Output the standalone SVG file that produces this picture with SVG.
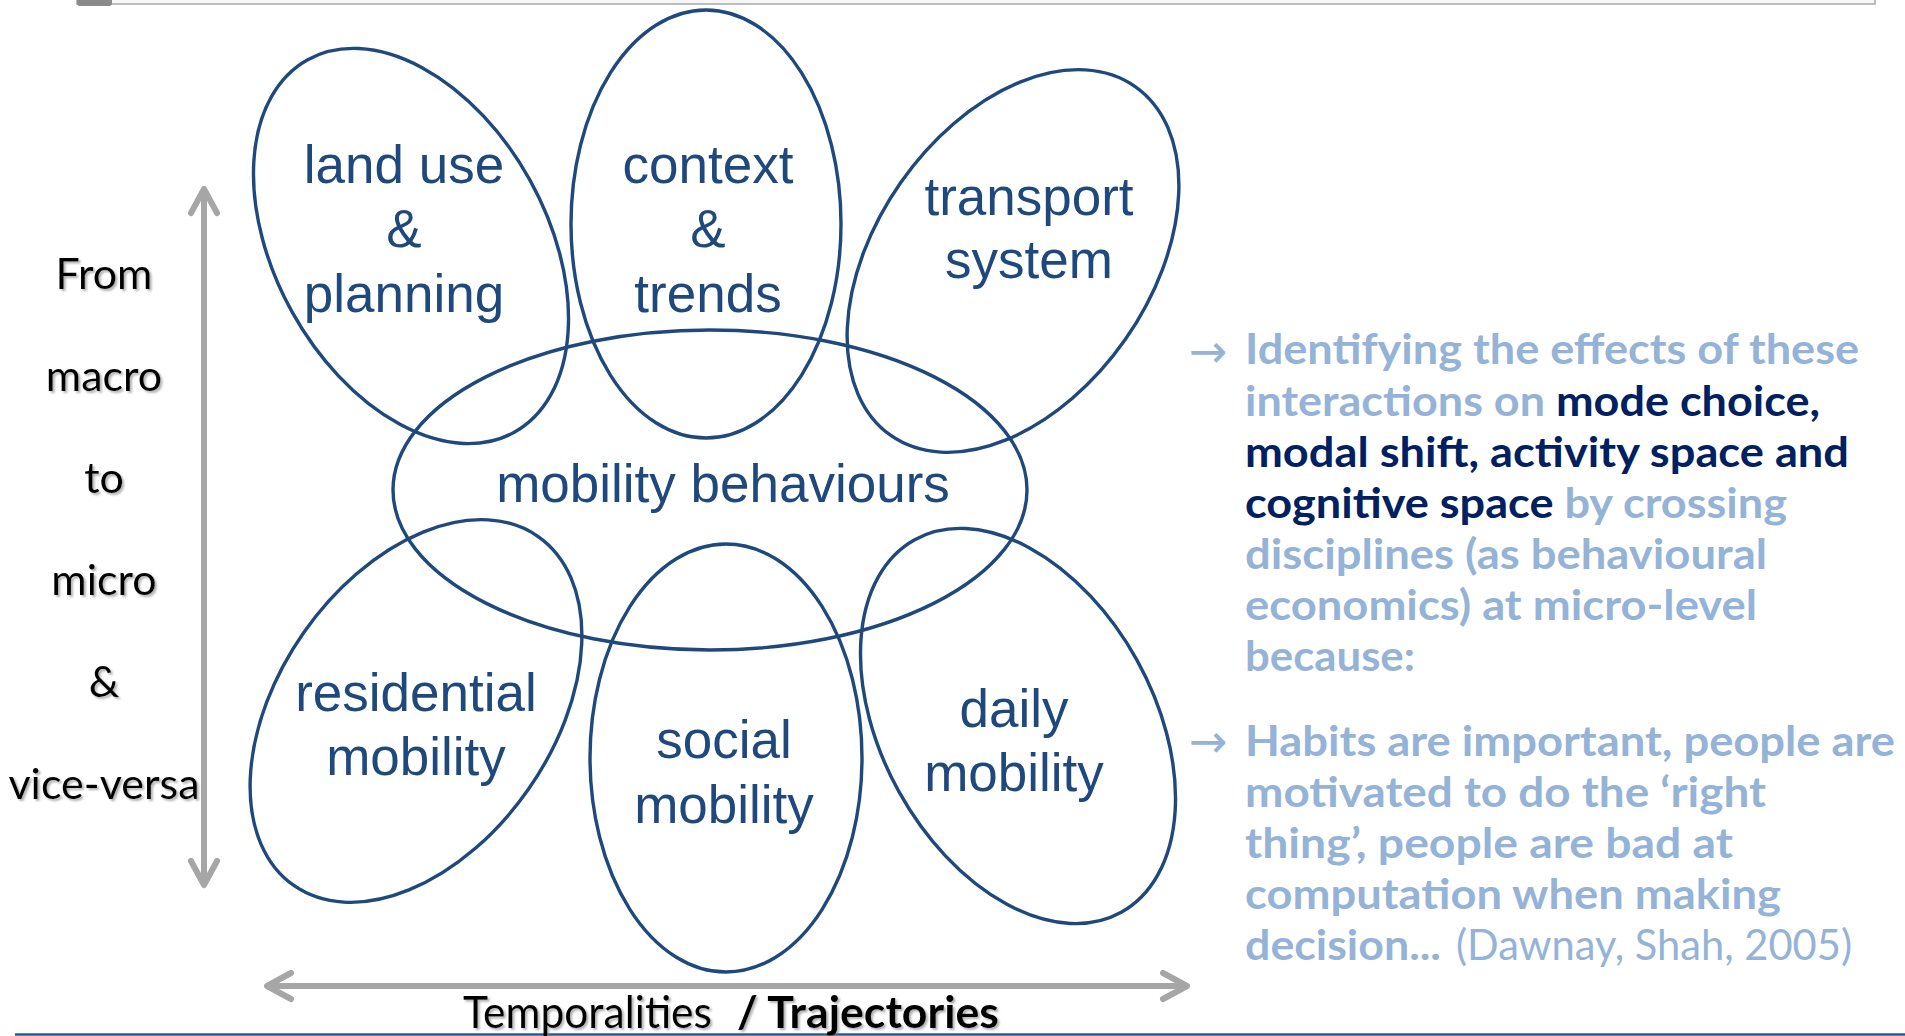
<svg xmlns="http://www.w3.org/2000/svg" width="1905" height="1036" viewBox="0 0 1905 1036">
<style>
.ell{fill:none;stroke:#1F497D;stroke-width:3.4}
.lbl{font-family:"Liberation Sans",Arial,sans-serif;font-size:53px;fill:#1F497D;text-anchor:middle}
.side{font-family:Lato,"Open Sans",sans-serif;font-size:43px;fill:#000;text-anchor:middle}
.axis{stroke:#A6A6A6;stroke-width:6;fill:none}
.note{font-family:Lato,"Open Sans",sans-serif;font-size:42px;font-weight:700;fill:#95B3D7}
.dark{fill:#002060}
.reg{font-weight:400}
.bul{font-family:"DejaVu Sans",sans-serif;font-size:46px;fill:#95B3D7}
</style>
<defs>
<marker id="chev" markerUnits="userSpaceOnUse" viewBox="-32 -18 38 36" markerWidth="38" markerHeight="36" refX="0" refY="0" orient="auto-start-reverse">
<path d="M-24,-13 L0,0 L-24,13" fill="none" stroke="#A6A6A6" stroke-width="6" stroke-linecap="round" stroke-linejoin="round"/>
</marker>
<filter id="shadow" x="-10%" y="-20%" width="130%" height="150%">
<feDropShadow dx="2" dy="2" stdDeviation="1" flood-color="#7f7f7f" flood-opacity="0.6"/>
</filter>
</defs>

<g id="topbar">
<rect x="77" y="-1" width="1798" height="5" fill="#f7f7f7" stroke="#a8a8a8" stroke-width="1.5"/>
<rect x="77" y="-4" width="35" height="10" rx="3" fill="#8a8a8a"/>
</g>

<g id="connectors">
<line class="axis" x1="204" y1="189" x2="204" y2="885" marker-start="url(#chev)" marker-end="url(#chev)"/>
<line class="axis" x1="267" y1="986" x2="1187" y2="986" marker-start="url(#chev)" marker-end="url(#chev)"/>
</g>

<g id="node-land-use">
<ellipse class="ell" cx="411" cy="246" rx="136" ry="213" transform="rotate(-29 411 246)"/>
<text class="lbl"><tspan x="404" y="183">land use</tspan><tspan x="404" y="247">&amp;</tspan><tspan x="404" y="312">planning</tspan></text>
</g>
<g id="node-context">
<ellipse class="ell" cx="706" cy="224" rx="135" ry="214"/>
<text class="lbl"><tspan x="708" y="183">context</tspan><tspan x="708" y="247">&amp;</tspan><tspan x="708" y="312">trends</tspan></text>
</g>
<g id="node-transport">
<ellipse class="ell" cx="1013" cy="261" rx="137" ry="213" transform="rotate(35 1013 261)"/>
<text class="lbl"><tspan x="1029" y="215">transport</tspan><tspan x="1029" y="278">system</tspan></text>
</g>
<g id="node-behaviours">
<ellipse class="ell" cx="710" cy="490" rx="317" ry="160"/>
<text class="lbl" x="723" y="502">mobility behaviours</text>
</g>
<g id="node-residential">
<ellipse class="ell" cx="416" cy="711" rx="137" ry="213" transform="rotate(35 416 711)"/>
<text class="lbl"><tspan x="416" y="711">residential</tspan><tspan x="416" y="775">mobility</tspan></text>
</g>
<g id="node-social">
<ellipse class="ell" cx="726" cy="758" rx="136" ry="214"/>
<text class="lbl"><tspan x="724" y="758">social</tspan><tspan x="724" y="823">mobility</tspan></text>
</g>
<g id="node-daily">
<ellipse class="ell" cx="1018" cy="726" rx="136" ry="213" transform="rotate(-29 1018 726)"/>
<text class="lbl"><tspan x="1014" y="727">daily</tspan><tspan x="1014" y="791">mobility</tspan></text>
</g>

<g id="side-labels" filter="url(#shadow)">
<text class="side" x="104" y="289">From</text>
<text class="side" x="104" y="391">macro</text>
<text class="side" x="104" y="493">to</text>
<text class="side" x="104" y="595">micro</text>
<text class="side" x="104" y="697">&amp;</text>
<text class="side" x="104" y="799">vice-versa</text>
</g>

<line x1="15" y1="1034.5" x2="1905" y2="1034.5" stroke="#2E5597" stroke-width="2.5"/>

<g id="bottom-label" filter="url(#shadow)">
<text class="side" style="text-anchor:start;font-size:44px"><tspan x="463" y="1028" textLength="249" lengthAdjust="spacingAndGlyphs">Temporalities</tspan><tspan x="737" y="1028" font-weight="700" textLength="262" lengthAdjust="spacingAndGlyphs">/ Trajectories</tspan></text>
</g>

<g id="notes">
<text class="bul" x="1189" y="367">→</text>
<text class="note" x="1245" y="364" textLength="614" lengthAdjust="spacingAndGlyphs">Identifying the effects of these</text>
<text class="note" x="1245" y="416" textLength="575" lengthAdjust="spacingAndGlyphs">interactions on <tspan class="dark">mode choice,</tspan></text>
<text class="note dark" x="1245" y="467" textLength="604" lengthAdjust="spacingAndGlyphs">modal shift, activity space and</text>
<text class="note" x="1245" y="518" textLength="542" lengthAdjust="spacingAndGlyphs"><tspan class="dark">cognitive space</tspan> by crossing</text>
<text class="note" x="1245" y="569" textLength="522" lengthAdjust="spacingAndGlyphs">disciplines (as behavioural</text>
<text class="note" x="1245" y="620" textLength="512" lengthAdjust="spacingAndGlyphs">economics) at micro-level</text>
<text class="note" x="1245" y="671" textLength="170" lengthAdjust="spacingAndGlyphs">because:</text>

<text class="bul" x="1189" y="757">→</text>
<text class="note" x="1245" y="756" textLength="650" lengthAdjust="spacingAndGlyphs">Habits are important, people are</text>
<text class="note" x="1245" y="807" textLength="521" lengthAdjust="spacingAndGlyphs">motivated to do the ‘right</text>
<text class="note" x="1245" y="858" textLength="488" lengthAdjust="spacingAndGlyphs">thing’, people are bad at</text>
<text class="note" x="1245" y="909" textLength="536" lengthAdjust="spacingAndGlyphs">computation when making</text>
<text class="note"><tspan x="1245" y="960" textLength="196" lengthAdjust="spacingAndGlyphs">decision...</tspan><tspan class="reg" x="1456" y="960" textLength="396" lengthAdjust="spacingAndGlyphs">(Dawnay, Shah, 2005)</tspan></text>
</g>
</svg>
